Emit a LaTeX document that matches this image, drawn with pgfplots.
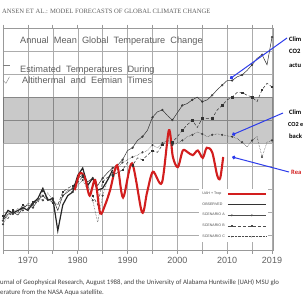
\documentclass[border=0pt]{standalone}
\usepackage{fontspec}
\setmainfont{Liberation Sans}
\newfontfamily\calib{Carlito}
\newfontfamily\serf{Liberation Serif}
\usepackage{pgfplots}
\pgfplotsset{compat=1.18}
\usetikzlibrary{arrows.meta}
\definecolor{arrblue}{RGB}{45,60,235}
\definecolor{obsred}{RGB}{210,30,30}
\definecolor{txtgray}{RGB}{95,95,95}
\begin{document}
\begin{tikzpicture}[x=1pt,y=1pt]
\useasboundingbox (0,0) rectangle (305,298);
\coordinate (origin) at (3,48);
\begin{axis}[
  at={(origin)}, anchor=south west,
  width=270pt, height=222pt, scale only axis,
  xmin=1965, xmax=2019.2, ymin=-0.66, ymax=1.75,
  xtick={1965,1970,1975,1980,1985,1990,1995,2000,2005,2010,2015,2019},
  xticklabels={,1970,,1980,,1990,,2000,,2010,,2019},
  minor x tick num=4,
  ytick={-0.5,-0.25,0,0.25,0.5,0.75,1,1.25,1.5,1.75},
  yticklabels={},
  xmajorgrids, ymajorgrids,
  grid style={gray!65, line width=0.4pt},
  axis line style={gray!80},
  tick align=outside,
  x tick style={gray!80, line width=0.5pt},
  major x tick style={line width=0.8pt},
  major tick length=3.5pt, minor tick length=2pt,
  y tick style={draw=none},
  xticklabel style={font=\fontsize{9}{10}\selectfont, text=txtgray},
  clip=false,
  legend style={draw=none, fill=white, font=\fontsize{3.6}{4}\selectfont,
     at={(0.981,0.275)}, anchor=north east, row sep=2.6pt, inner sep=1pt,
     cells={anchor=west}, text=black!70},
  legend plot pos=right,
  legend image code/.code={\draw[#1,mark=none] (0pt,0pt) -- (38pt,0pt);
     \draw[#1,only marks] plot coordinates {(4pt,0pt) (24pt,0pt)};},
]
% shaded band
\addplot[fill=black, fill opacity=0.21, draw=none, forget plot]
  coordinates {(1965,0.5) (2019.2,0.5) (2019.2,1.0) (1965,1.0)} -- cycle;

% Scenario A
\addplot[black!80, line width=0.5pt, mark=o, mark size=0.9pt, mark repeat=2, forget plot]
coordinates {(1965,-0.34)(1966,-0.27)(1967,-0.25)(1968,-0.28)(1969,-0.20)(1970,-0.17)(1971,-0.20)(1972,-0.12)(1973,-0.07)(1974,-0.12)(1975,-0.10)(1976,-0.23)(1977,-0.07)(1978,-0.03)(1979,0.01)(1980,0.12)(1981,0.15)(1982,0.08)(1983,0.12)(1984,0.04)(1985,0.12)(1986,0.18)(1987,0.23)(1988,0.26)(1989,0.32)(1990,0.42)(1991,0.45)(1992,0.53)(1993,0.57)(1994,0.64)(1995,0.78)(1996,0.84)(1997,0.86)(1998,0.80)(1999,0.75)(2000,0.83)(2001,0.91)(2002,0.93)(2003,0.97)(2004,1.00)(2005,0.95)(2006,0.97)(2007,1.02)(2008,1.08)(2009,1.13)(2010,1.18)(2011,1.18)(2012,1.22)(2013,1.24)(2014,1.29)(2015,1.35)(2016,1.42)(2017,1.46)(2018,1.35)(2019,1.65)};

% Scenario B
\addplot[black!80, line width=0.5pt, densely dashed, mark=square*, mark size=0.7pt, mark repeat=2, mark options={solid}, forget plot]
coordinates {(1965,-0.29)(1966,-0.32)(1967,-0.23)(1968,-0.25)(1969,-0.17)(1970,-0.21)(1971,-0.14)(1972,-0.15)(1973,-0.01)(1974,-0.10)(1975,-0.15)(1976,-0.17)(1977,-0.03)(1978,0.01)(1979,0.04)(1980,0.07)(1981,0.14)(1982,0.04)(1983,-0.07)(1984,-0.17)(1985,0.08)(1986,0.13)(1987,0.15)(1988,0.18)(1989,0.21)(1990,0.29)(1991,0.26)(1992,0.34)(1993,0.32)(1994,0.37)(1995,0.42)(1996,0.40)(1997,0.48)(1998,0.53)(1999,0.51)(2000,0.57)(2001,0.64)(2002,0.70)(2003,0.75)(2004,0.67)(2005,0.77)(2006,0.77)(2007,0.77)(2008,0.86)(2009,0.91)(2010,0.97)(2011,1.00)(2012,1.05)(2013,1.05)(2014,1.02)(2015,1.00)(2016,0.95)(2017,1.08)(2018,1.15)(2019,1.11)};

% Scenario C
\addplot[black!80, line width=0.5pt, densely dotted, mark=o, mark size=0.8pt, mark repeat=2, mark options={solid}, forget plot]
coordinates {(1965,-0.38)(1966,-0.28)(1967,-0.27)(1968,-0.21)(1969,-0.23)(1970,-0.15)(1971,-0.17)(1972,-0.10)(1973,-0.12)(1974,-0.04)(1975,-0.12)(1976,-0.17)(1977,-0.07)(1978,-0.01)(1979,-0.03)(1980,0.04)(1981,0.10)(1982,-0.01)(1983,-0.12)(1984,-0.36)(1985,-0.07)(1986,0.10)(1987,0.18)(1988,0.23)(1989,0.29)(1990,0.32)(1991,0.35)(1992,0.37)(1993,0.40)(1994,0.42)(1995,0.48)(1996,0.45)(1997,0.50)(1998,0.53)(1999,0.48)(2000,0.50)(2001,0.53)(2002,0.57)(2003,0.59)(2004,0.62)(2005,0.60)(2006,0.57)(2007,0.59)(2008,0.60)(2009,0.59)(2010,0.58)(2011,0.57)(2012,0.55)(2013,0.51)(2014,0.46)(2015,0.53)(2016,0.57)(2017,0.35)(2018,0.51)(2019,0.53)};

% Observed
\addplot[black!85, line width=1.2pt, forget plot]
coordinates {(1965,-0.32)(1966,-0.23)(1967,-0.26)(1968,-0.23)(1969,-0.20)(1970,-0.23)(1971,-0.15)(1972,-0.10)(1973,0.01)(1974,-0.12)(1975,-0.10)(1976,-0.45)(1977,-0.17)(1978,-0.07)(1979,-0.03)(1980,0.15)(1981,0.23)(1982,0.04)(1983,0.12)(1984,-0.01)(1985,0.01)(1986,0.10)(1987,0.21)};

% Satellite (red)
\addplot[obsred, line width=2.1pt, smooth, tension=0.5, forget plot]
coordinates {(1979.4,-0.01)(1980.4,0.17)(1981.4,0.13)(1982.4,-0.07)(1983.5,0.10)(1984.5,-0.26)(1985.5,-0.17)(1986.5,-0.01)(1987.9,0.26)(1989.1,-0.09)(1990.9,0.28)(1992.9,-0.25)(1993.9,-0.04)(1995.1,0.19)(1996.9,0.07)(1998.3,0.64)(1999.1,0.35)(2000.1,0.24)(2001.1,0.42)(2002.1,0.40)(2003.1,0.37)(2004.1,0.42)(2005.1,0.34)(2005.9,0.45)(2007.0,0.40)(2008.0,0.15)(2008.6,0.12)(2009.2,0.35)};

\addlegendimage{obsred, line width=1.8pt, mark=none}
\addlegendentry{UAH + Trop}
\addlegendimage{black!80, line width=1.2pt, mark=none}
\addlegendentry{OBSERVED}
\addlegendimage{black!70, line width=0.4pt, mark=o, mark size=0.8pt}
\addlegendentry{SCENARIO A}
\addlegendimage{black!70, line width=0.4pt, densely dashed, mark=square*, mark size=0.7pt}
\addlegendentry{SCENARIO B}
\addlegendimage{black!70, line width=0.4pt, densely dotted, mark=o, mark size=0.8pt}
\addlegendentry{SCENARIO C}

\node[anchor=west, inner sep=0pt, text=txtgray, font=\fontsize{9.2}{10}\selectfont] at (axis cs:1968.4,1.61)
  {Annual\ \ Mean\ \ Global\ \ Temperature\ \ Change};
\node[anchor=west, inner sep=0pt, text=txtgray, font=\fontsize{9.2}{10}\selectfont] at (axis cs:1968.4,1.29)
  {Estimated\ \ Temperatures\ \ During};
\node[anchor=west, inner sep=0pt, text=txtgray, font=\fontsize{9.2}{10}\selectfont] at (axis cs:1968.8,1.18)
  {Altithermal\ \ and\ \ Eemian\ \ Times};
\draw[gray, line width=0.4pt] (axis cs:1965,1.35) -- (axis cs:1966.5,1.35);
\draw[gray, line width=0.4pt] (axis cs:1965,1.18) -- (axis cs:1965.6,1.15) -- (axis cs:1966.3,1.22);

\coordinate (h1) at (axis cs:2010.6,1.20);
\coordinate (h2) at (axis cs:2011.0,0.59);
\coordinate (h3) at (axis cs:2011.0,0.35);
\end{axis}

% header
\node[anchor=base west, inner sep=0pt, text=txtgray, font=\serf\fontsize{6.6}{7}\selectfont] at (2,284)
  {ANSEN ET AL.: MODEL FORECASTS OF GLOBAL CLIMATE CHANGE};

% annotations on the right
\draw[arrblue, line width=1pt, -{Circle[length=3.6pt]}] (287,260) -- (h1);
\draw[arrblue, line width=1pt, -{Circle[length=3.6pt]}] (283,185) -- (h2);
\draw[arrblue, line width=1pt, -{Circle[length=3.6pt]}] (289,126) -- (h3);
\begin{scope}[font=\calib\bfseries\fontsize{6.6}{8}\selectfont]
\node[anchor=base west, inner sep=0pt] at (289,257) {Clim};
\node[anchor=base west, inner sep=0pt] at (289,244) {CO2};
\node[anchor=base west, inner sep=0pt] at (289,231) {actu};
\node[anchor=base west, inner sep=0pt] at (289,184) {Clim};
\node[anchor=base west, inner sep=0pt] at (288,172) {\fontsize{6.2}{8}\selectfont CO2 e};
\node[anchor=base west, inner sep=0pt] at (289,160) {back};
\node[anchor=base west, inner sep=0pt, text=obsred] at (291,124) {Rea};
\end{scope}

% caption
\node[anchor=base west, inner sep=0pt, text=black!75, font=\calib\fontsize{6.8}{7}\selectfont] at (0,14)
  {urnal of Geophysical Research, August 1988, and the University of Alabama Huntsville (UAH) MSU glo};
\node[anchor=base west, inner sep=0pt, text=black!75, font=\calib\fontsize{6.8}{7}\selectfont] at (0,4)
  {erature from the NASA Aqua satellite.};
\end{tikzpicture}
\end{document}
